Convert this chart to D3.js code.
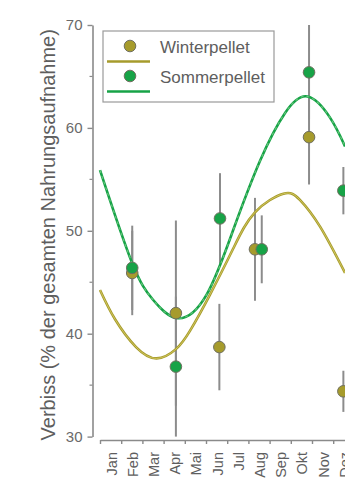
<!DOCTYPE html>
<html>
<head>
<meta charset="utf-8">
<script src="https://cdn.jsdelivr.net/npm/d3@7"></script>
<style>
  body { margin: 0; background: #fff; }
  text { font-family: "Liberation Sans", Arial, sans-serif; }
</style>
</head>
<body>
<script>
// chart size (cropped figure)
var width = 345
var height = 481

// data
const months = ["Jan", "Feb", "Mar", "Apr", "Mai", "Jun", "Jul", "Aug", "Sep", "Okt", "Nov", "Dez"]
const yTicks = [30, 40, 50, 60, 70]
const yMinorTicks = [35, 45, 55, 65]

const winterMonth = [1.52, 3.58, 5.63, 7.31, 9.86, 11.48]
const winterMean  = [45.9, 42.0, 38.7, 48.2, 59.1, 34.4]
const winterErr   = [4.1, 9.0, 4.2, 5.0, 4.6, 2.0]

const summerMonth = [1.52, 3.58, 5.66, 7.63, 9.86, 11.48]
const summerMean  = [46.4, 36.8, 51.2, 48.2, 65.4, 53.9]
const summerErr   = [4.1, 6.8, 4.4, 3.3, 4.6, 2.3]

// fitted curves, sampled by eye
const winterFitMonth = [0, 0.71, 1.70, 2.67, 3.58, 4.25, 5.19, 6.29, 7.31, 8.65, 9.43, 10.38, 11.56]
const winterFit      = [44.25, 41.4, 38.7, 37.6, 38.5, 40.3, 43.8, 48.3, 51.8, 53.6, 53.0, 50.4, 45.9]
const summerFitMonth = [0, 1.51, 2.5, 3.68, 5.03, 6.27, 7.55, 8.73, 9.79, 10.85, 11.56]
const summerFit      = [55.9, 46.9, 43.3, 41.5, 43.8, 50.0, 56.8, 61.45, 63.05, 61.0, 58.2]

const olive = "#a69b2c"
const green = "#17a347"
const grey = "#8a8a8a"

var svg = d3.select("body").append("svg")
    .attr("width", width)
    .attr("height", height);

var xScale = d3.scaleLinear().domain([0, 12]).range([100, 354.4])
var yScale = d3.scaleLinear().domain([30, 70]).range([436.6, 25])

function renderYAxis() {
    var yAxis = d3.axisLeft(yScale)
        .tickValues(yTicks)
        .tickSize(5)
        .tickSizeOuter(0)
        .tickPadding(5);

    var g = svg.append("g")
        .attr("transform", "translate(92.5,0)")
        .call(yAxis);

    g.select(".domain").attr("stroke", grey).attr("stroke-width", 1.6);
    g.selectAll(".tick line").attr("stroke", grey).attr("stroke-width", 1.4);
    g.selectAll(".tick text")
        .attr("fill", "#6a6a6a")
        .style("font-size", "15px")
        .style("font-family", "Liberation Sans, Arial, sans-serif");

    g.selectAll("line.minor")
        .data(yMinorTicks)
        .enter()
        .append("line")
        .attr("class", "minor")
        .attr("x1", -3)
        .attr("x2", 0)
        .attr("y1", (d) => yScale(d))
        .attr("y2", (d) => yScale(d))
        .attr("stroke", grey)
        .attr("stroke-width", 1.2);

    svg.append("text")
        .attr("transform", "translate(55," + ((yScale(30) + yScale(70)) / 2 + 4) + ") rotate(-90)")
        .attr("text-anchor", "middle")
        .attr("fill", "#5e5e5e")
        .style("font-size", "20px")
        .text("Verbiss (% der gesamten Nahrungsaufnahme)");
}

function renderXAxis() {
    var xAxis = d3.axisBottom(xScale)
        .tickValues(d3.range(0, 13))
        .tickFormat("")
        .tickSize(4)
        .tickSizeOuter(0);

    var g = svg.append("g")
        .attr("transform", "translate(0,440)")
        .call(xAxis);

    g.select(".domain").attr("stroke", grey).attr("stroke-width", 1.6);
    g.selectAll(".tick line").attr("stroke", grey).attr("stroke-width", 1.4);

    // month names sit between the ticks; "Dez" is clipped by the figure edge as in the original
    svg.selectAll("text.month")
        .data(months)
        .enter()
        .append("text")
        .attr("class", "month")
        .attr("transform", (d, i) => "translate(" + (xScale(i + 0.5) + 1) + ",452) rotate(-90)")
        .attr("text-anchor", "end")
        .attr("dy", "0.35em")
        .attr("fill", "#5e5e5e")
        .style("font-size", "14.5px")
        .text((d) => d);
}

function renderErrorBars(mx, mean, err, cls) {
    svg.selectAll("line." + cls)
        .data(mean)
        .enter()
        .append("line")
        .attr("class", cls)
        .attr("x1", (d, i) => xScale(mx[i]))
        .attr("x2", (d, i) => xScale(mx[i]))
        .attr("y1", (d, i) => yScale(d + err[i]))
        .attr("y2", (d, i) => yScale(d - err[i]))
        .attr("stroke", "#8c8c8c")
        .attr("stroke-width", 2);
}

function renderFit(mx, vals, color, dashed) {
    var line = d3.line()
        .x((d, i) => xScale(mx[i]))
        .y((d) => yScale(d))
        .curve(d3.curveNatural);

    svg.append("path")
        .datum(vals)
        .attr("d", line)
        .attr("fill", "none")
        .attr("stroke", color)
        .attr("stroke-width", 2.6);

    if (dashed) {
        svg.append("path")
            .datum(vals)
            .attr("d", line)
            .attr("fill", "none")
            .attr("stroke", "#63c47a")
            .attr("stroke-width", 1.2)
            .attr("stroke-dasharray", "3,3");
    } else {
        svg.append("path")
            .datum(vals)
            .attr("d", line)
            .attr("fill", "none")
            .attr("stroke", "#d9cf6a")
            .attr("stroke-width", 0.8);
    }
}

function renderDots(mx, mean, color, cls) {
    svg.selectAll("circle." + cls)
        .data(mean)
        .enter()
        .append("circle")
        .attr("class", cls)
        .attr("cx", (d, i) => xScale(mx[i]))
        .attr("cy", (d) => yScale(d))
        .attr("r", 5.8)
        .style("fill", color)
        .style("stroke", "#707060")
        .style("stroke-width", 1);
}

function renderLegend() {
    var g = svg.append("g");
    g.append("rect")
        .attr("x", 103).attr("y", 31)
        .attr("width", 171).attr("height", 71)
        .attr("fill", "#fff")
        .attr("stroke", "#9a9a9a")
        .attr("stroke-width", 1.2);

    var items = [
        { label: "Winterpellet", color: olive, y: 46 },
        { label: "Sommerpellet", color: green, y: 76 }
    ];
    items.forEach(function (it) {
        g.append("circle")
            .attr("cx", 130).attr("cy", it.y).attr("r", 5.8)
            .style("fill", it.color)
            .style("stroke", "#707060")
            .style("stroke-width", 1);
        g.append("line")
            .attr("x1", 107).attr("x2", 150)
            .attr("y1", it.y + 15.5).attr("y2", it.y + 15.5)
            .attr("stroke", it.color)
            .attr("stroke-width", 2.6);
        g.append("text")
            .attr("x", 160).attr("y", it.y + 7)
            .attr("fill", "#5e5e5e")
            .style("font-size", "17px")
            .text(it.label);
    });
}

renderYAxis();
renderXAxis();
renderErrorBars(winterMonth, winterMean, winterErr, "err-w");
renderErrorBars(summerMonth, summerMean, summerErr, "err-s");
renderFit(winterFitMonth, winterFit, olive, false);
renderFit(summerFitMonth, summerFit, green, true);
renderDots(winterMonth, winterMean, olive, "dot-w");
renderDots(summerMonth, summerMean, green, "dot-s");
renderLegend();
</script>
</body>
</html>
